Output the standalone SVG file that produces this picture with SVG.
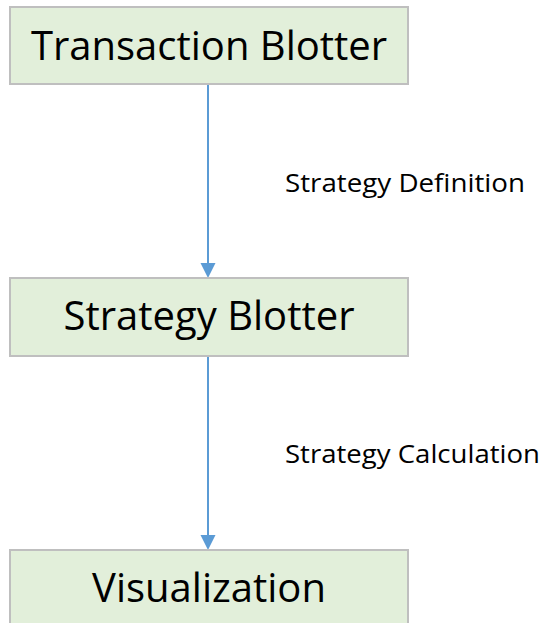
<svg xmlns="http://www.w3.org/2000/svg" width="548" height="623" viewBox="0 0 548 623">
<style>
.box{fill:#E2EFDA;stroke:#BFBFBF;stroke-width:2}
.t{font-family:"Open Sans","Noto Sans","DejaVu Sans",sans-serif;font-size:40px;fill:#000;text-anchor:middle}
.l{font-family:"Open Sans","Noto Sans","DejaVu Sans",sans-serif;font-size:26px;fill:#000}
.c{stroke:#5B9BD5;stroke-width:2;fill:none}
.h{fill:#5B9BD5}
</style>
<g id="connectors">
<path class="c" d="M208,84 V263"/>
<path class="h" d="M200.5,263 L215.5,263 L208,278 Z"/>
<path class="c" d="M208,356 V535"/>
<path class="h" d="M200.5,535 L215.5,535 L208,550 Z"/>
<text class="l" x="285" y="192" textLength="240" lengthAdjust="spacingAndGlyphs">Strategy Definition</text>
<text class="l" x="285" y="463" textLength="255" lengthAdjust="spacingAndGlyphs">Strategy Calculation</text>
</g>
<g id="n1">
<rect class="box" x="10" y="7" width="398" height="77"/>
<text class="t" x="209" y="60">Transaction Blotter</text>
</g>
<g id="n2">
<rect class="box" x="10" y="278" width="398" height="78"/>
<text class="t" x="209" y="330">Strategy Blotter</text>
</g>
<g id="n3">
<rect class="box" x="10" y="550" width="398" height="80"/>
<text class="t" x="209" y="602">Visualization</text>
</g>
</svg>
